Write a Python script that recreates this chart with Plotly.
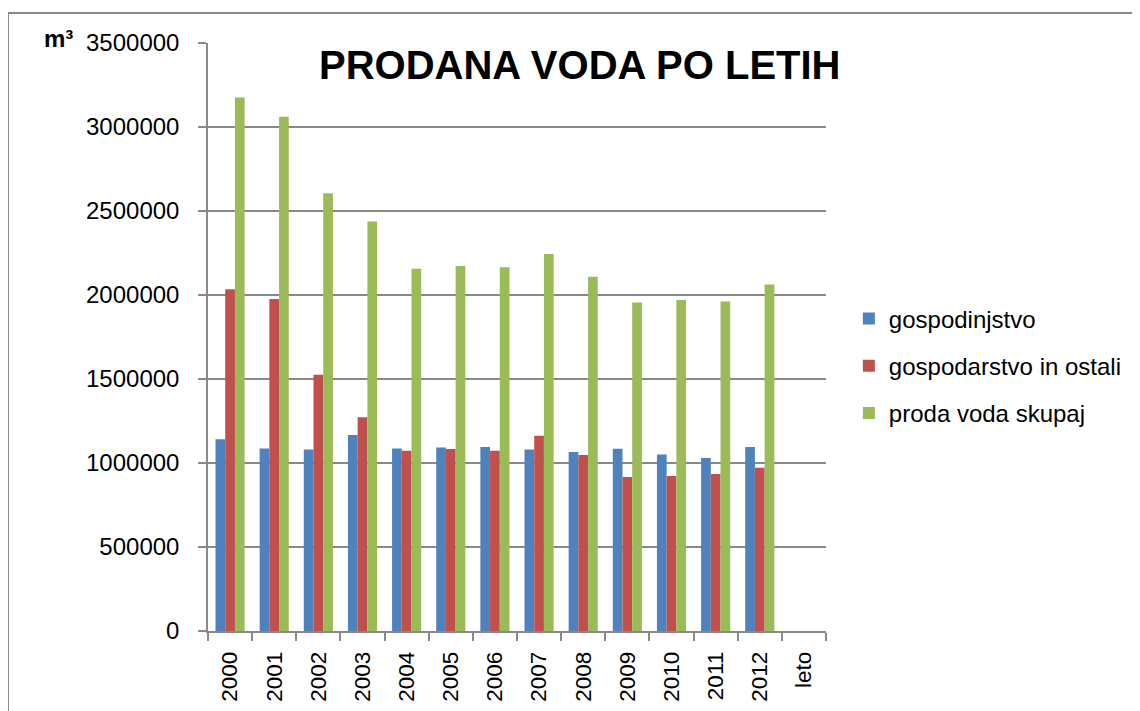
import plotly.graph_objects as go

# yearly sold water in m3
years = ["2000", "2001", "2002", "2003", "2004", "2005", "2006",
         "2007", "2008", "2009", "2010", "2011", "2012"]
categories = years + ["leto"]

gospodinjstvo = [1141000, 1087000, 1081000, 1167000, 1087000, 1093000, 1095000,
                 1081000, 1065000, 1085000, 1050000, 1030000, 1095000]
gospodarstvo = [2034000, 1976000, 1525000, 1272000, 1073000, 1083000, 1073000,
                1162000, 1047000, 917000, 922000, 934000, 972000]
skupaj = [3176000, 3061000, 2605000, 2438000, 2156000, 2172000, 2165000,
          2244000, 2109000, 1956000, 1970000, 1962000, 2063000]

series_names = ["gospodinjstvo", "gospodarstvo in ostali", "proda voda skupaj"]
colors = ["#4F81BD", "#C0504D", "#9BBB59"]

font = "Liberation Sans, Arial, sans-serif"
grey = "#898989"

fig = go.Figure()
for name, vals, col in zip(series_names, [gospodinjstvo, gospodarstvo, skupaj], colors):
    fig.add_trace(go.Bar(
        x=years, y=vals, name=name, marker_color=col,
        marker_line_width=0, legendgroup=name,
    ))

# the page body adds an 8px offset, so margins are trimmed by that
fig.update_layout(
    width=1140, height=711,
    margin=dict(l=200, r=322, t=35, b=88),
    paper_bgcolor="white", plot_bgcolor="white",
    barmode="group", bargap=0.34, bargroupgap=0,
    font=dict(family=font, color="black"),
    showlegend=True,
    legend=dict(
        x=1.037, xanchor="left", y=0.4507, yanchor="middle",
        font=dict(size=24, family=font), traceorder="grouped",
        tracegroupgap=13, bgcolor="rgba(0,0,0,0)",
    ),
)

fig.update_xaxes(
    type="category", categoryorder="array", categoryarray=categories,
    range=[-0.5, len(categories) - 0.5],
    tickangle=-90, tickfont=dict(size=22.5, family=font),
    ticks="outside", ticklen=8, tickcolor=grey, tickwidth=1.5,
    tickson="boundaries", ticklabelstandoff=10,
    showline=True, linecolor=grey, linewidth=1.5,
    showgrid=False, zeroline=False,
)
fig.update_yaxes(
    range=[0, 3500000], tickvals=[0, 500000, 1000000, 1500000, 2000000, 2500000, 3000000, 3500000],
    ticktext=["0", "500000", "1000000", "1500000", "2000000", "2500000", "3000000", "3500000"],
    tickfont=dict(size=24, family=font),
    ticks="outside", ticklen=8, tickcolor=grey, tickwidth=1.5, ticklabelstandoff=14,
    showline=True, linecolor=grey, linewidth=1.5,
    showgrid=True, gridcolor=grey, gridwidth=1.5, zeroline=False,
)

# title and unit
fig.add_annotation(
    text="<b>PRODANA VODA PO LETIH</b>", xref="paper", yref="paper",
    x=0.602, y=0.963, xanchor="center", yanchor="middle", showarrow=False,
    font=dict(size=40, family=font, color="black"),
)
fig.add_annotation(
    text="<b>m³</b>", xref="paper", yref="paper",
    x=-0.2427, y=1.0085, xanchor="center", yanchor="middle", showarrow=False,
    font=dict(size=24, family=font, color="black"),
)

# outer chart frame (only top and left edges visible)
fig.add_shape(type="line", xref="paper", yref="paper", x0=-0.3236, x1=1.6,
              y0=1.051, y1=1.051, line=dict(color=grey, width=2))
fig.add_shape(type="line", xref="paper", yref="paper", x0=-0.3236, x1=-0.3236,
              y0=1.051, y1=-0.3, line=dict(color=grey, width=2))

fig.write_html("out.html")
